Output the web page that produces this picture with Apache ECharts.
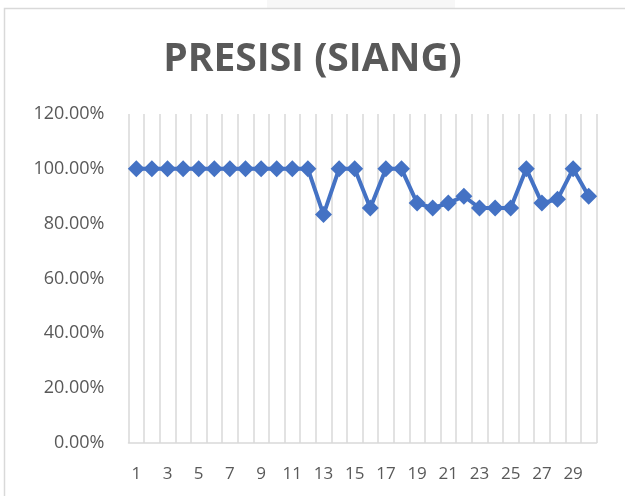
<!DOCTYPE html>
<html>
<head>
<meta charset="utf-8">
<script src="https://cdn.jsdelivr.net/npm/echarts@6/dist/echarts.min.js"></script>
<style>
html,body{margin:0;padding:0;background:#fff;}
#chart{width:625px;height:496px;}
</style>
</head>
<body>
<div id="chart"></div>
<script>
var titleText = "PRESISI (SIANG)";
var categories = ["1","2","3","4","5","6","7","8","9","10","11","12","13","14","15","16","17","18","19","20","21","22","23","24","25","26","27","28","29","30"];
var presisi = [1,1,1,1,1,1,1,1,1,1,1,1,0.8333,1,1,0.8571,1,1,0.875,0.8571,0.875,0.9,0.8571,0.8571,0.8571,1,0.875,0.8889,1,0.9];
var yMin = 0, yMax = 1.2, yStep = 0.2;

var chart = echarts.init(document.getElementById('chart'), null, {renderer:'canvas'});
chart.setOption({
  backgroundColor:'#ffffff',
  animation:false,
  graphic:[
    {type:'rect', shape:{x:267,y:0,width:188,height:8}, style:{fill:'#f7f7f7'}, silent:true},
    {type:'rect', shape:{x:4.5,y:8.5,width:640,height:500}, style:{fill:'none',stroke:'#d9d9d9',lineWidth:1.5}, silent:true}
  ],
  title:{
    text:titleText,
    left:'center',
    top:35,
    textStyle:{fontFamily:'Open Sans',fontWeight:'bold',fontSize:39,color:'#595959'}
  },
  grid:{left:128.5,right:28.5,top:114,bottom:53,containLabel:false},
  xAxis:{
    type:'category',
    data:categories,
    boundaryGap:true,
    axisLine:{show:true,lineStyle:{color:'#d9d9d9',width:1.5}},
    axisTick:{show:false},
    axisLabel:{interval:1,color:'#595959',fontFamily:'Open Sans',fontSize:17,margin:23},
    splitLine:{show:true,interval:0,lineStyle:{color:'#d9d9d9',width:1.5}}
  },
  yAxis:{
    type:'value',
    min:yMin,max:yMax,interval:yStep,
    axisLine:{show:false},
    axisTick:{show:false},
    splitLine:{show:false},
    axisLabel:{color:'#595959',fontFamily:'Open Sans',fontSize:18,margin:24,
      formatter:function(v){return (v*100).toFixed(2)+'%';}}
  },
  series:[{
    type:'line',
    data:presisi,
    symbol:'diamond',
    symbolSize:17,
    showSymbol:true,
    showAllSymbol:true,
    lineStyle:{color:'#4472C4',width:4},
    itemStyle:{color:'#4472C4'}
  }]
});
</script>
</body>
</html>
